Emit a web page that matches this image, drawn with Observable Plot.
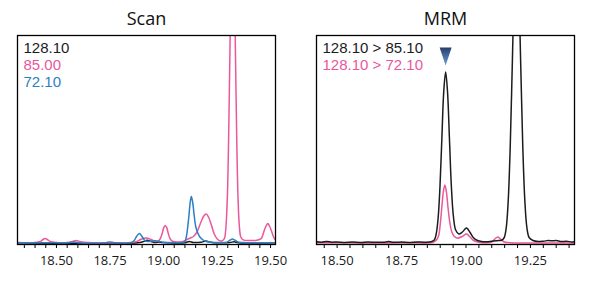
<!DOCTYPE html>
<html>
<head>
<meta charset="utf-8">
<script src="https://cdn.jsdelivr.net/npm/d3@7"></script>
<script src="https://cdn.jsdelivr.net/npm/@observablehq/plot@0.6"></script>
<style>
  html, body { margin: 0; padding: 0; background: #fff; }
  #wrap { position: relative; width: 590px; height: 282px; overflow: hidden; background: #fff; }
  #scan, #mrm { position: absolute; top: 0; }
  #scan { left: 0; }
  #mrm { left: 295px; }
</style>
</head>
<body>
<div id="wrap"><div id="scan"></div><div id="mrm"></div></div>
<script>
// ---- Data (time in min, relative intensity) ----
const scanTitle = "Scan";
const mrmTitle = "MRM";

const scanLabels = ["128.10", "85.00", "72.10"];
const mrmLabels = ["128.10 > 85.10", "128.10 > 72.10"];

const scanMajorTicks = [18.50, 18.75, 19.00, 19.25, 19.50];
const scanAllTicks = [18.35, 18.40, 18.45, 18.50, 18.55, 18.60, 18.65, 18.70, 18.75, 18.80, 18.85, 18.90, 18.95, 19.00, 19.05, 19.10, 19.15, 19.20, 19.25, 19.30, 19.35, 19.40, 19.45, 19.50];
const mrmMajorTicks = [18.50, 18.75, 19.00, 19.25];
const mrmAllTicks = [18.45, 18.50, 18.55, 18.60, 18.65, 18.70, 18.75, 18.80, 18.85, 18.90, 18.95, 19.00, 19.05, 19.10, 19.15, 19.20, 19.25, 19.30, 19.35, 19.40];

const scanDomain = [18.318, 19.523];
const mrmDomain = [18.42, 19.421];

// Scan, m/z 128.10
const scan128 = [[18.318,0.2],[18.88,0.2],[18.903,1.2],[18.923,2.8],[18.942,1.5],[18.96,0.5],[18.978,0.9],[18.998,0.5],[19.1,0.3],[19.12,1.5],[19.14,0.5],[19.175,0.8],[19.198,2],[19.22,0.8],[19.26,0.2],[19.31,0.5],[19.33,1.2],[19.35,0.3],[19.523,0.2]];
// Scan, m/z 85.00
const scan85 = [[18.318,0.5],[18.40,0.5],[18.425,1.5],[18.437,3.5],[18.447,4.5],[18.457,3.5],[18.47,1.5],[18.50,0.5],[18.55,0.5],[18.575,1.5],[18.593,2.5],[18.612,1.3],[18.65,0.5],[18.85,0.5],[18.875,1.5],[18.895,3.8],[18.92,5],[18.942,3.5],[18.962,1.5],[18.975,1.8],[18.984,4],[18.995,10.5],[19.001,15.4],[19.008,17.5],[19.015,15.4],[19.021,10.5],[19.032,3.8],[19.045,1.5],[19.07,1],[19.095,1.8],[19.11,3.5],[19.125,5],[19.14,6.5],[19.155,10.5],[19.175,21],[19.188,27],[19.199,29],[19.21,26],[19.222,19],[19.237,9],[19.253,3.5],[19.27,2],[19.28,3.2],[19.2858,5.5],[19.2915,16],[19.298,45],[19.3041,105],[19.3104,195],[19.3167,282],[19.323,320],[19.3293,282],[19.3356,195],[19.3419,105],[19.348,45],[19.3545,16],[19.361,6],[19.372,3.2],[19.40,2.5],[19.43,2.6],[19.448,3.5],[19.458,5],[19.4705,12.5],[19.479,17],[19.487,19.5],[19.495,17],[19.5035,12.5],[19.515,5.5],[19.523,3]];
// Scan, m/z 72.10
const scan72 = [[18.318,0.3],[18.50,0.3],[18.56,0.3],[18.58,1],[18.60,0.3],[18.73,0.3],[18.75,1],[18.77,0.3],[18.85,0.5],[18.862,2.2],[18.874,6.5],[18.887,9.5],[18.899,6.8],[18.911,2.8],[18.925,1.5],[18.945,1.9],[18.962,2.3],[18.978,1.8],[18.995,0.8],[19.02,0.4],[19.09,0.6],[19.1,1.5],[19.107,6.5],[19.113,16],[19.119,28],[19.1245,40.5],[19.13,46.5],[19.136,41],[19.142,30],[19.15,17],[19.16,10],[19.17,6],[19.185,3],[19.2,1.5],[19.22,0.8],[19.25,0.5],[19.295,0.8],[19.31,2.8],[19.322,4],[19.334,2.8],[19.348,1],[19.37,0.5],[19.523,0.3]];

// MRM 128.10 > 85.10
const mrm85 = [[18.42,1.2],[18.44,0.8],[18.46,1.5],[18.48,0.8],[18.50,1.0],[18.53,0.6],[18.56,0.9],[18.59,0.6],[18.62,1.0],[18.65,0.7],[18.68,0.8],[18.70,1.4],[18.72,0.7],[18.75,0.9],[18.78,0.6],[18.81,1.0],[18.84,0.8],[18.865,1.3],[18.877,3],[18.884,8.5],[18.8916,24],[18.899,56],[18.9063,104],[18.9136,151],[18.921,171],[18.9284,151],[18.9357,105],[18.943,58],[18.951,27],[18.96,13],[18.972,9],[18.986,11],[19.002,15],[19.016,10.5],[19.03,5],[19.045,2.5],[19.06,1.5],[19.08,1.3],[19.10,1.8],[19.12,2.3],[19.138,2.8],[19.1474,5],[19.1555,14],[19.1636,41],[19.1717,97],[19.1798,180],[19.1879,260],[19.196,295],[19.2041,260],[19.2122,180],[19.2203,97],[19.2284,42],[19.2365,15],[19.245,5.5],[19.26,2.5],[19.28,1.5],[19.30,1.8],[19.32,2.5],[19.335,2.2],[19.35,2.5],[19.37,1.4],[19.39,1.8],[19.41,1.0],[19.421,1.3]];
// MRM 128.10 > 72.10
const mrm72 = [[18.42,0.2],[18.60,0.1],[18.80,0.2],[18.87,0.5],[18.884,2.5],[18.894,7.5],[18.9,18.5],[18.906,35],[18.912,51],[18.918,58],[18.924,51],[18.93,36],[18.937,21],[18.945,11],[18.955,6.5],[18.967,4.8],[18.985,6.5],[19.002,9],[19.016,6],[19.03,2.5],[19.05,0.8],[19.08,0.3],[19.1,1],[19.112,4],[19.123,6],[19.134,4],[19.148,1],[19.17,0.3],[19.25,0.1],[19.421,0.1]];

const markerTime = 18.921;

const colBlack = "#1c1c1c";
const colPink = "#e9589c";
const colBlue = "#2b7fc2";
const scanColors = [colBlack, colPink, colBlue];
const mrmColors = [colBlack, colPink];

const yDomain = [-1.5, 207.5];
const font = "'Open Sans', 'Noto Sans', sans-serif";
const legendFont = "'Liberation Sans', Arial, sans-serif";

function trace(data, color) {
  return Plot.line(data, {x: d => d[0], y: d => d[1], stroke: color, strokeWidth: 1.5, curve: "catmull-rom", clip: true});
}

function common(title, labels, colors, allTicks, majorTicks) {
  return [
    Plot.text([title], {frameAnchor: "top", dy: -11, lineAnchor: "bottom", fontSize: 18, fill: "#111"}),
    ...labels.map((l, i) => Plot.text([l], {frameAnchor: "top-left", dx: 6, dy: 17.7 + i * 16.8, lineAnchor: "bottom", textAnchor: "start", fontSize: 15, fontFamily: legendFont, fill: colors[i]})),
    Plot.axisX({ticks: allTicks, tickSize: 4, tickPadding: 7, stroke: "#000", fill: "#1a1a1a", fontSize: 13,
      tickFormat: d => majorTicks.includes(d) ? d.toFixed(2) : ""}),
    Plot.frame({stroke: "#000", strokeWidth: 1.3})
  ];
}

const scanPlot = Plot.plot({
  width: 295, height: 282,
  marginLeft: 17, marginRight: 20, marginTop: 35, marginBottom: 38,
  style: {fontFamily: font, fontSize: "13px", background: "#fff", color: "#1a1a1a"},
  x: {domain: scanDomain},
  y: {domain: yDomain, axis: null},
  marks: [
    trace(scan128, colBlack),
    trace(scan85, colPink),
    trace(scan72, colBlue),
    ...common(scanTitle, scanLabels, scanColors, scanAllTicks, scanMajorTicks)
  ]
});
document.getElementById("scan").appendChild(scanPlot);

const downTriangle = {
  draw(context) {
    context.moveTo(-6, -9);
    context.lineTo(6, -9);
    context.lineTo(0, 9);
    context.closePath();
  }
};

const mrmPlot = Plot.plot({
  width: 295, height: 282,
  marginLeft: 21, marginRight: 16, marginTop: 35, marginBottom: 38,
  style: {fontFamily: font, fontSize: "13px", background: "#fff", color: "#1a1a1a"},
  x: {domain: mrmDomain},
  y: {domain: yDomain, axis: null},
  marks: [
    trace(mrm72, colPink),
    trace(mrm85, colBlack),
    Plot.dot([markerTime], {x: d => d, frameAnchor: "top", dy: 21, symbol: downTriangle, r: 6, fill: "url(#triGrad)", stroke: "none"}),
    ...common(mrmTitle, mrmLabels, mrmColors, mrmAllTicks, mrmMajorTicks)
  ]
});
document.getElementById("mrm").appendChild(mrmPlot);

d3.select(mrmPlot).insert("defs", ":first-child").html(
  '<linearGradient id="triGrad" x1="0" y1="0" x2="0" y2="1">' +
  '<stop offset="0" stop-color="#243f6b"/><stop offset="1" stop-color="#6e9fd8"/></linearGradient>'
);
</script>
</body>
</html>
